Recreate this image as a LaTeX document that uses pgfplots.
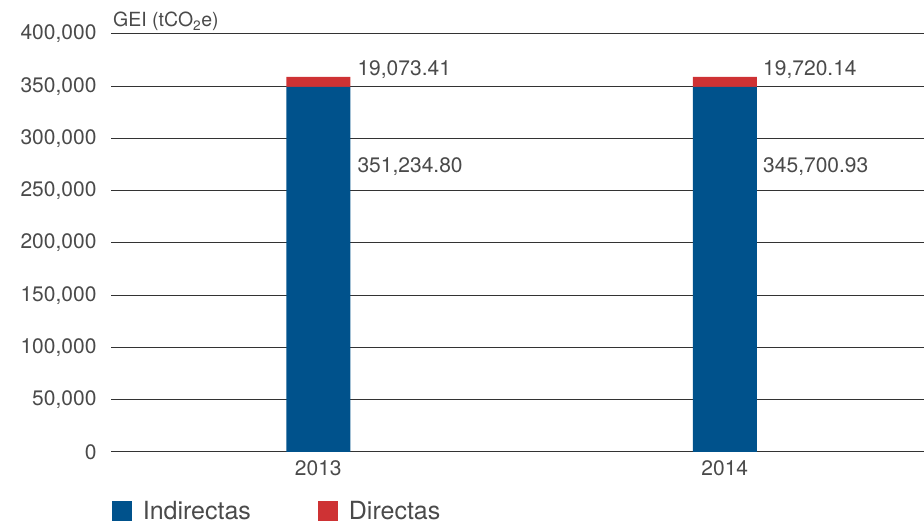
\documentclass[border=0pt]{standalone}
\usepackage{pgfplots}
\pgfplotsset{compat=1.18}
\usepackage{fontspec}
\setmainfont{TeX Gyre Heros}
\definecolor{txt}{HTML}{4A4A4A}
\definecolor{bblue}{HTML}{00528C}
\definecolor{bred}{HTML}{CE3234}
\definecolor{gridc}{HTML}{333333}
\begin{document}
\begin{tikzpicture}[x=1pt,y=1pt]
\useasboundingbox (0,0) rectangle (924,525);
\begin{axis}[
  at={(111pt,73pt)}, anchor=south west,
  scale only axis, width=813pt, height=418pt,
  ybar stacked, bar width=64pt,
  xmin=-0.51, xmax=1.49, ymin=0, ymax=400000,
  enlargelimits=false,
  xtick={0,1}, xticklabels={2013,2014},
  ytick={0,50000,100000,150000,200000,250000,300000,350000,400000},
  yticklabels={0,{50,000},{100,000},{150,000},{200,000},{250,000},{300,000},{350,000},{400,000}},
  scaled y ticks=false,
  axis line style={draw=none},
  major tick length=0pt,
  ymajorgrids, grid style={gridc, line width=1pt},
  tick label style={font=\fontsize{21}{25}\selectfont, text=txt},
  yticklabel style={anchor=east, xshift=-11pt},
  xticklabel style={anchor=north, yshift=-5pt},
  legend style={at={(0.001,-0.1411)}, anchor=west, draw=none, fill=none,
    inner sep=0pt, outer sep=0pt, nodes={inner sep=0pt},
    font=\fontsize{25}{29}\selectfont, text=txt,
    /tikz/every even column/.append style={column sep=67pt}},
  legend columns=2, legend cell align=left,
]
\addplot[fill=bblue, draw=none, legend image code/.code={\fill[bblue] (0pt,-10pt) rectangle (20pt,10pt); \path (31pt,0pt);}]
  coordinates {(0,349300) (1,349300)};
\addlegendentry{Indirectas}
\addplot[fill=bred, draw=none, legend image code/.code={\fill[bred] (0pt,-10pt) rectangle (20pt,10pt); \path (31pt,0pt);}]
  coordinates {(0,9600) (1,9600)};
\addlegendentry{Directas}
\node[anchor=west, inner sep=0pt, text=txt, font=\fontsize{21}{25}\selectfont] at (axis cs:0.096,365550) {19,073.41};
\node[anchor=west, inner sep=0pt, text=txt, font=\fontsize{21}{25}\selectfont] at (axis cs:0.096,272700) {351,234.80};
\node[anchor=west, inner sep=0pt, text=txt, font=\fontsize{21}{25}\selectfont] at (axis cs:1.094,365550) {19,720.14};
\node[anchor=west, inner sep=0pt, text=txt, font=\fontsize{21}{25}\selectfont] at (axis cs:1.094,272700) {345,700.93};
\end{axis}
\node[anchor=base west, inner sep=0pt, text=txt, font=\fontsize{19.5}{23}\selectfont] at (113,498) {GEI (tCO\textsubscript{2}e)};
\end{tikzpicture}
\end{document}
